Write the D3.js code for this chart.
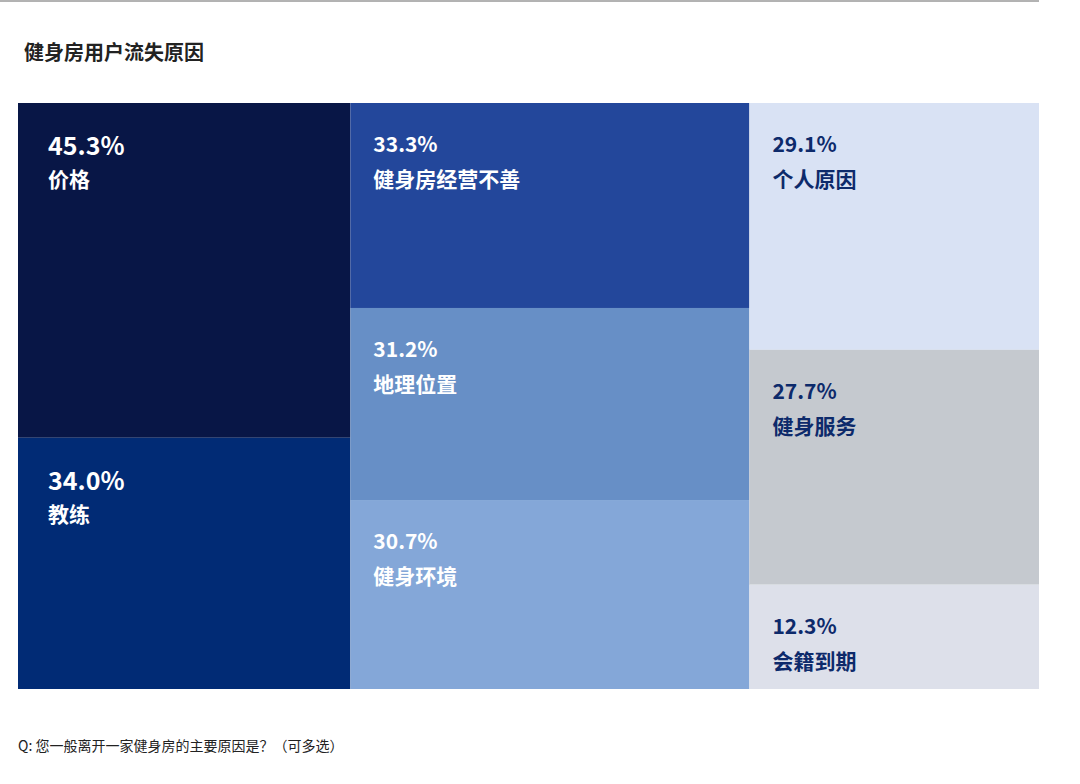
<!DOCTYPE html>
<html><head><meta charset="utf-8">
<script src="https://cdn.jsdelivr.net/npm/d3@7"></script>
<style>body{margin:0;background:#fff;font-family:"Noto Sans CJK SC","Noto Sans",sans-serif;}</style>
</head><body><svg id="c" width="1080" height="784"></svg>
<script>
var groups = ['g1', 'g2', 'g3'];
var labels = [['价格', '教练'], ['健身房经营不善', '地理位置', '健身环境'], ['个人原因', '健身服务', '会籍到期']];
var values = [[45.3, 34.0], [33.3, 31.2, 30.7], [29.1, 27.7, 12.3]];
var fills = [['#081646', '#012b75'], ['#23479b', '#678fc6', '#84a7d8'], ['#d9e2f4', '#c5c9cf', '#dde0ea']];
var inks = [['#fff', '#fff'], ['#fff', '#fff', '#fff'], ['#0d2a6b', '#0d2a6b', '#0d2a6b']];

var svg = d3.select('#c');
svg.append('line').attr('x1', 0).attr('x2', 1039).attr('y1', 1).attr('y2', 1).attr('stroke', '#666').attr('stroke-width', 1);
svg.append('text').attr('x', 24).attr('y', 60).attr('font-size', 20).attr('font-weight', 'bold').attr('fill', '#222').text('健身房用户流失原因');

var data = {children: groups.map(function(g, i){
  return {name: g, children: values[i].map(function(v, j){
    return {name: labels[i][j], value: v, fill: fills[i][j], ink: inks[i][j], big: i === 0};
  })};
})};
var root = d3.hierarchy(data).sum(function(d){return d.value || 0;});
d3.treemap().tile(d3.treemapSliceDice).size([1021, 586])(root);

var g = svg.append('g').attr('transform', 'translate(18,103)');
var cell = g.selectAll('g').data(root.leaves()).enter().append('g')
  .attr('transform', function(d){return 'translate(' + d.x0 + ',' + d.y0 + ')';});
cell.append('rect')
  .attr('width', function(d){return d.x1 - d.x0;})
  .attr('height', function(d){return d.y1 - d.y0;})
  .attr('fill', function(d){return d.data.fill;});
cell.append('text')
  .attr('x', function(d){return d.data.big ? 30 : 23;})
  .attr('y', function(d){return d.data.big ? 52 : 49;})
  .attr('font-size', function(d){return d.data.big ? 25 : 21;})
  .attr('font-weight', 'bold').attr('fill', function(d){return d.data.ink;})
  .text(function(d){return d.data.value.toFixed(1) + '%';});
cell.append('text')
  .attr('x', function(d){return d.data.big ? 30 : 23;})
  .attr('y', 84)
  .attr('font-size', 21).attr('font-weight', 'bold').attr('fill', function(d){return d.data.ink;})
  .text(function(d){return d.data.name;});

svg.append('text').attr('x', 18).attr('y', 751).attr('font-size', 14).attr('fill', '#222').text('Q: 您一般离开一家健身房的主要原因是？（可多选）');
</script></body></html>
